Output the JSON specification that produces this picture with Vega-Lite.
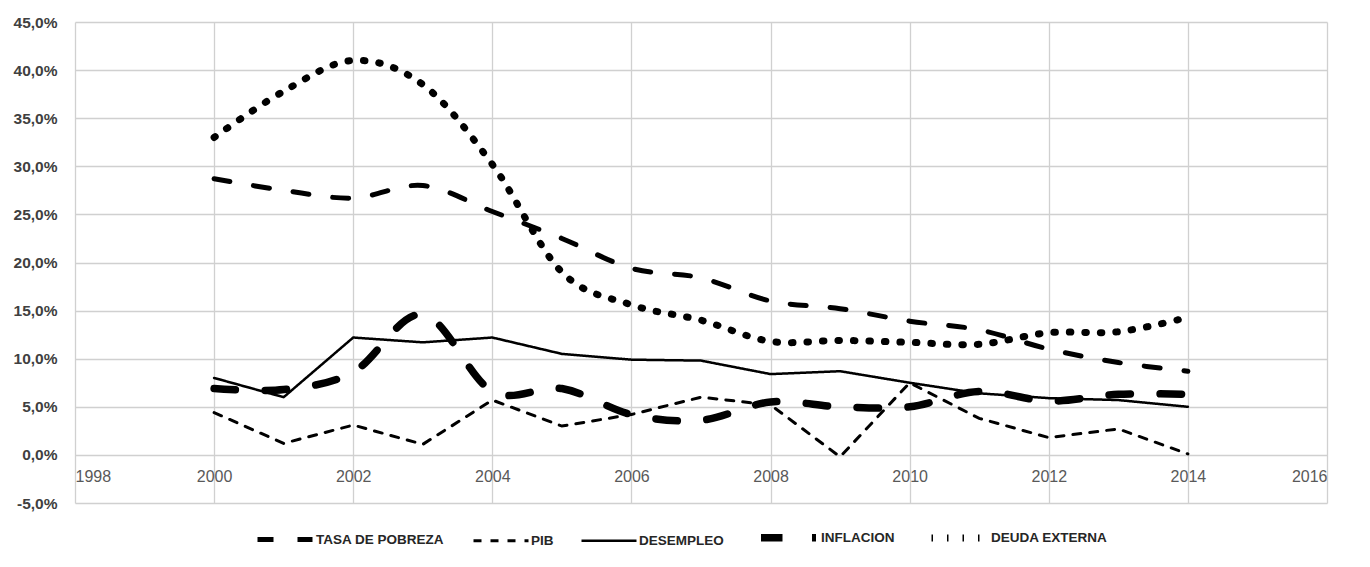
{
  "$schema": "https://vega.github.io/schema/vega-lite/v6.json",
  "width": 1252,
  "height": 481,
  "autosize": {"type": "none"},
  "padding": {"left": 75, "top": 22, "right": 43, "bottom": 64},
  "background": "white",
  "data": {
    "values": [
      {"year": 2000, "serie": "TASA DE POBREZA", "valor": 28.7},
      {"year": 2001, "serie": "TASA DE POBREZA", "valor": 27.5},
      {"year": 2002, "serie": "TASA DE POBREZA", "valor": 26.7},
      {"year": 2003, "serie": "TASA DE POBREZA", "valor": 28.0},
      {"year": 2004, "serie": "TASA DE POBREZA", "valor": 25.3},
      {"year": 2005, "serie": "TASA DE POBREZA", "valor": 22.5},
      {"year": 2006, "serie": "TASA DE POBREZA", "valor": 19.4},
      {"year": 2007, "serie": "TASA DE POBREZA", "valor": 18.4},
      {"year": 2008, "serie": "TASA DE POBREZA", "valor": 16.0},
      {"year": 2009, "serie": "TASA DE POBREZA", "valor": 15.2},
      {"year": 2010, "serie": "TASA DE POBREZA", "valor": 13.9},
      {"year": 2011, "serie": "TASA DE POBREZA", "valor": 13.0},
      {"year": 2012, "serie": "TASA DE POBREZA", "valor": 11.0},
      {"year": 2013, "serie": "TASA DE POBREZA", "valor": 9.6},
      {"year": 2014, "serie": "TASA DE POBREZA", "valor": 8.7},
      {"year": 2000, "serie": "PIB", "valor": 4.4},
      {"year": 2001, "serie": "PIB", "valor": 1.2},
      {"year": 2002, "serie": "PIB", "valor": 3.1},
      {"year": 2003, "serie": "PIB", "valor": 1.1},
      {"year": 2004, "serie": "PIB", "valor": 5.7},
      {"year": 2005, "serie": "PIB", "valor": 3.0},
      {"year": 2006, "serie": "PIB", "valor": 4.2},
      {"year": 2007, "serie": "PIB", "valor": 6.0},
      {"year": 2008, "serie": "PIB", "valor": 5.2},
      {"year": 2009, "serie": "PIB", "valor": -0.2},
      {"year": 2010, "serie": "PIB", "valor": 7.5},
      {"year": 2011, "serie": "PIB", "valor": 3.8},
      {"year": 2012, "serie": "PIB", "valor": 1.8},
      {"year": 2013, "serie": "PIB", "valor": 2.7},
      {"year": 2014, "serie": "PIB", "valor": 0.1},
      {"year": 2000, "serie": "DESEMPLEO", "valor": 8.0},
      {"year": 2001, "serie": "DESEMPLEO", "valor": 6.0},
      {"year": 2002, "serie": "DESEMPLEO", "valor": 12.2},
      {"year": 2003, "serie": "DESEMPLEO", "valor": 11.7},
      {"year": 2004, "serie": "DESEMPLEO", "valor": 12.2},
      {"year": 2005, "serie": "DESEMPLEO", "valor": 10.5},
      {"year": 2006, "serie": "DESEMPLEO", "valor": 9.9},
      {"year": 2007, "serie": "DESEMPLEO", "valor": 9.8},
      {"year": 2008, "serie": "DESEMPLEO", "valor": 8.4},
      {"year": 2009, "serie": "DESEMPLEO", "valor": 8.7},
      {"year": 2010, "serie": "DESEMPLEO", "valor": 7.5},
      {"year": 2011, "serie": "DESEMPLEO", "valor": 6.4},
      {"year": 2012, "serie": "DESEMPLEO", "valor": 5.9},
      {"year": 2013, "serie": "DESEMPLEO", "valor": 5.7},
      {"year": 2014, "serie": "DESEMPLEO", "valor": 5.0},
      {"year": 2000, "serie": "INFLACION", "valor": 6.9},
      {"year": 2001, "serie": "INFLACION", "valor": 6.8},
      {"year": 2002, "serie": "INFLACION", "valor": 8.6},
      {"year": 2003, "serie": "INFLACION", "valor": 14.6},
      {"year": 2004, "serie": "INFLACION", "valor": 6.6},
      {"year": 2005, "serie": "INFLACION", "valor": 6.9},
      {"year": 2006, "serie": "INFLACION", "valor": 4.2},
      {"year": 2007, "serie": "INFLACION", "valor": 3.6},
      {"year": 2008, "serie": "INFLACION", "valor": 5.5},
      {"year": 2009, "serie": "INFLACION", "valor": 5.0},
      {"year": 2010, "serie": "INFLACION", "valor": 5.0},
      {"year": 2011, "serie": "INFLACION", "valor": 6.6},
      {"year": 2012, "serie": "INFLACION", "valor": 5.6},
      {"year": 2013, "serie": "INFLACION", "valor": 6.3},
      {"year": 2014, "serie": "INFLACION", "valor": 6.3},
      {"year": 2000, "serie": "DEUDA EXTERNA", "valor": 33.0},
      {"year": 2001, "serie": "DEUDA EXTERNA", "valor": 37.8},
      {"year": 2002, "serie": "DEUDA EXTERNA", "valor": 41.0},
      {"year": 2003, "serie": "DEUDA EXTERNA", "valor": 38.5},
      {"year": 2004, "serie": "DEUDA EXTERNA", "valor": 30.2},
      {"year": 2005, "serie": "DEUDA EXTERNA", "valor": 19.0},
      {"year": 2006, "serie": "DEUDA EXTERNA", "valor": 15.6},
      {"year": 2007, "serie": "DEUDA EXTERNA", "valor": 14.0},
      {"year": 2008, "serie": "DEUDA EXTERNA", "valor": 11.8},
      {"year": 2009, "serie": "DEUDA EXTERNA", "valor": 11.9},
      {"year": 2010, "serie": "DEUDA EXTERNA", "valor": 11.7},
      {"year": 2011, "serie": "DEUDA EXTERNA", "valor": 11.5},
      {"year": 2012, "serie": "DEUDA EXTERNA", "valor": 12.7},
      {"year": 2013, "serie": "DEUDA EXTERNA", "valor": 12.8},
      {"year": 2014, "serie": "DEUDA EXTERNA", "valor": 14.3}
    ]
  },
  "encoding": {
    "x": {
      "field": "year",
      "type": "quantitative",
      "scale": {"domain": [1998, 2016], "nice": false, "zero": false},
      "axis": {
        "title": null,
        "values": [1998, 2000, 2002, 2004, 2006, 2008, 2010, 2012, 2014, 2016],
        "format": "d",
        "offset": -48,
        "domain": false,
        "ticks": false,
        "labelPadding": 13,
        "labelFont": "Liberation Sans",
        "labelFontSize": 16,
        "labelColor": "#595959",
        "gridColor": "#d0d0d0",
        "gridWidth": 1.3
      }
    },
    "y": {
      "field": "valor",
      "type": "quantitative",
      "scale": {"domain": [-5, 45], "nice": false},
      "axis": {
        "title": null,
        "values": [-5, 0, 5, 10, 15, 20, 25, 30, 35, 40, 45],
        "labelExpr": "replace(replace(format(datum.value, '.1f'), '.', ','), '\u2212', '-') + '%'",
        "domain": false,
        "ticks": false,
        "labelPadding": 18,
        "labelFont": "Liberation Sans",
        "labelFontSize": 15.5,
        "labelFontWeight": "bold",
        "labelColor": "#404040",
        "gridColor": "#d0d0d0",
        "gridWidth": 1.3
      }
    },
    "strokeDash": {
      "field": "serie",
      "type": "nominal",
      "scale": {
        "domain": ["DESEMPLEO", "PIB", "_1", "_2", "_3", "TASA DE POBREZA", "_4", "_5", "_6", "DEUDA EXTERNA", "INFLACION"],
        "range": [[1, 0], [8, 9], [1, 0], [1, 0], [1, 0], [16, 24], [1, 0], [1, 0], [1, 0], [1.5, 14], [21.5, 29.5]]
      },
      "legend": {
        "title": null,
        "orient": "none",
        "legendX": 180,
        "legendY": 484,
        "direction": "horizontal",
        "values": ["TASA DE POBREZA", "PIB", "DESEMPLEO", "INFLACION", "DEUDA EXTERNA"],
        "symbolType": "stroke",
        "symbolSize": 3025,
        "symbolStrokeColor": "black",
        "columnPadding": 22,
        "labelOffset": 1,
        "labelFont": "Liberation Sans",
        "labelFontSize": 13.5,
        "labelFontWeight": "bold",
        "labelColor": "#262626"
      }
    },
    "strokeWidth": {
      "field": "serie",
      "type": "nominal",
      "scale": {
        "type": "point",
        "padding": 0,
        "domain": ["DESEMPLEO", "PIB", "_1", "_2", "_3", "TASA DE POBREZA", "_4", "_5", "_6", "DEUDA EXTERNA", "INFLACION"],
        "range": [2.5, 7.5]
      },
      "legend": {
        "title": null,
        "orient": "none",
        "legendX": 180,
        "legendY": 484,
        "direction": "horizontal",
        "values": ["TASA DE POBREZA", "PIB", "DESEMPLEO", "INFLACION", "DEUDA EXTERNA"],
        "symbolType": "stroke",
        "symbolSize": 3025,
        "symbolStrokeColor": "black",
        "columnPadding": 22,
        "labelOffset": 1,
        "labelFont": "Liberation Sans",
        "labelFontSize": 13.5,
        "labelFontWeight": "bold",
        "labelColor": "#262626"
      }
    }
  },
  "layer": [
    {
      "transform": [{"filter": "datum.serie === 'PIB' || datum.serie === 'DESEMPLEO'"}],
      "mark": {"type": "line", "color": "black", "strokeCap": "round", "interpolate": "linear"}
    },
    {
      "transform": [{"filter": "datum.serie !== 'PIB' && datum.serie !== 'DESEMPLEO'"}],
      "mark": {"type": "line", "color": "black", "strokeCap": "round", "interpolate": "cardinal"}
    }
  ],
  "config": {
    "view": {"stroke": null}
  }
}
